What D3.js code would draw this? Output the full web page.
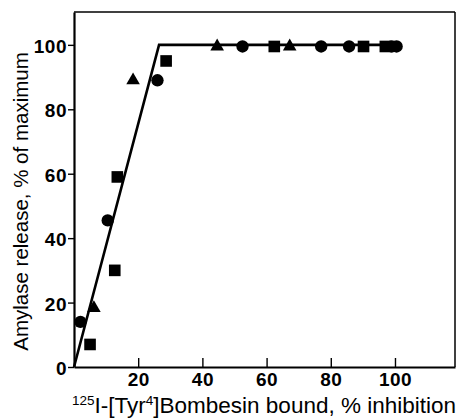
<!DOCTYPE html>
<html>
<head>
<meta charset="utf-8">
<script src="https://cdn.jsdelivr.net/npm/d3@7"></script>
<style>
  body { margin: 0; background: #fff; }
  svg { display: block; }
</style>
</head>
<body>
<div id="chart"></div>
<script>
var width = 460,
    height = 418,
    margin = { top: 12, right: 5, bottom: 51, left: 74 };

// circles
var circleX = [2, 10.5, 26, 52.5, 77, 85.7, 99, 100.5];
var circleY = [14, 45.5, 89, 99.5, 99.5, 99.5, 99.5, 99.5];
// squares
var squareX = [5, 12.7, 13.5, 28.7, 62.4, 90.2, 97];
var squareY = [7, 30, 59, 95, 99.5, 99.5, 99.5];
// triangles
var triX = [6.2, 18.4, 44.6, 67.2];
var triY = [18.3, 89, 99.5, 99.5];
// fitted line
var lineX = [0, 26.5, 102];
var lineY = [0, 100, 100];

var xTicks = [20, 40, 60, 80, 100];
var yTicks = [0, 20, 40, 60, 80, 100];

var svg = d3.select("#chart")
    .append("svg")
    .attr("width", width)
    .attr("height", height);

var x = d3.scaleLinear()
    .domain([0, 118.7])
    .range([margin.left, width - margin.right]);

var y = d3.scaleLinear()
    .domain([0, 110.2])
    .range([height - margin.bottom, margin.top]);

// frame: top and right thin
svg.append("line")
    .attr("x1", x(0)).attr("x2", x(118.7))
    .attr("y1", y(110.2)).attr("y2", y(110.2))
    .attr("stroke", "#000").attr("stroke-width", 1.5);
svg.append("line")
    .attr("x1", x(118.7)).attr("x2", x(118.7))
    .attr("y1", y(110.2)).attr("y2", y(0))
    .attr("stroke", "#000").attr("stroke-width", 1.5);

// x axis, ticks pointing inward
var xAxis = d3.axisBottom(x)
    .tickValues(xTicks)
    .tickSize(-9)
    .tickPadding(6)
    .tickSizeOuter(0);

var gx = svg.append("g")
    .attr("transform", "translate(0," + y(0) + ")")
    .call(xAxis);

// y axis
var yAxis = d3.axisLeft(y)
    .tickValues(yTicks)
    .tickSize(6)
    .tickPadding(1)
    .tickSizeOuter(0);

var gy = svg.append("g")
    .attr("transform", "translate(" + x(0) + ",0)")
    .call(yAxis);

[gx, gy].forEach(function (g) {
    g.select(".domain").attr("stroke-width", 2.2);
    g.selectAll(".tick line").attr("stroke-width", 1.4);
    g.selectAll(".tick text")
        .attr("fill", "#000")
        .style("font-family", "'Liberation Sans', Arial, sans-serif")
        .style("font-weight", "bold")
        .style("font-size", "19px")
        .style("letter-spacing", "0.5px");
});
gy.selectAll(".tick text").attr("dy", "0.4em");

// fitted line
var pts = lineX.map(function (v, i) { return [v, lineY[i]]; });
svg.append("path")
    .datum(pts)
    .attr("d", d3.line()
        .x(function (d) { return x(d[0]); })
        .y(function (d) { return y(d[1]); }))
    .attr("fill", "none")
    .attr("stroke", "#000")
    .attr("stroke-width", 2.6)
    .attr("stroke-linejoin", "miter");

// markers
function drawMarkers(xs, ys, type, size) {
    var data = xs.map(function (v, i) { return [v, ys[i]]; });
    svg.append("g")
        .selectAll("path")
        .data(data)
        .enter()
        .append("path")
        .attr("transform", function (d) {
            return "translate(" + x(d[0]) + "," + y(d[1]) + ")";
        })
        .attr("d", d3.symbol().type(type).size(size))
        .attr("fill", "#000");
}
drawMarkers(circleX, circleY, d3.symbolCircle, 120);
drawMarkers(squareX, squareY, d3.symbolSquare, 135);
drawMarkers(triX, triY, d3.symbolTriangle, 80);

// y label
svg.append("text")
    .attr("transform", "translate(28," + ((y(0) + y(110.2)) / 2 + 12) + ") rotate(-90)")
    .attr("text-anchor", "middle")
    .style("font-family", "'Liberation Sans', Arial, sans-serif")
    .style("font-size", "20.5px")
    .text("Amylase release, % of maximum");

// x label
var xl = svg.append("text")
    .attr("x", 72)
    .attr("y", 413)
    .style("font-family", "'Liberation Sans', Arial, sans-serif")
    .style("font-size", "22.5px");
xl.append("tspan").attr("dy", "-8").style("font-size", "13.5px").text("125");
xl.append("tspan").attr("dy", "8").text("I-[Tyr");
xl.append("tspan").attr("dy", "-8").style("font-size", "13.5px").text("4");
xl.append("tspan").attr("dy", "8").text("]Bombesin bound, % inhibition");
</script>
</body>
</html>
